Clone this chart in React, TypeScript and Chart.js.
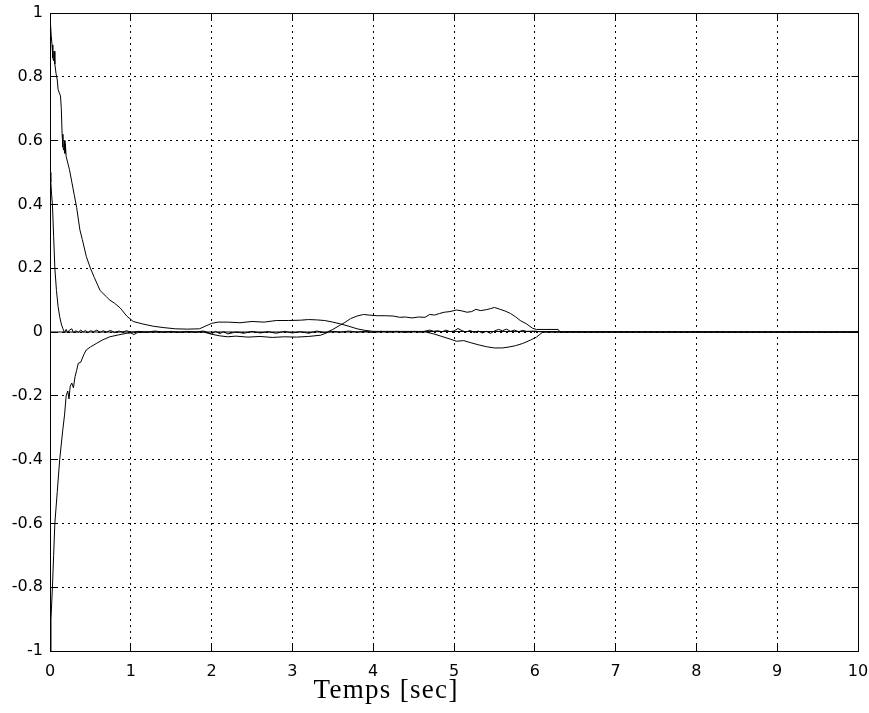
import React, { useEffect, useRef } from 'react';
import { Chart, registerables } from 'chart.js';

Chart.register(...registerables);

// ---------------- data ----------------
const xTickValues = [0, 1, 2, 3, 4, 5, 6, 7, 8, 9, 10];
const yTickValues = [-1, -0.8, -0.6, -0.4, -0.2, 0, 0.2, 0.4, 0.6, 0.8, 1];
const xAxisTitle = 'Temps [sec]';

// curve starting at 1
const s1T = [0, 0.005, 0.015, 0.025, 0.035, 0.045, 0.05, 0.06, 0.075, 0.09,
  0.1, 0.115, 0.13, 0.14, 0.15, 0.16, 0.17, 0.18, 0.185, 0.19,
  0.2, 0.22, 0.24, 0.27, 0.3, 0.33, 0.37, 0.4, 0.45, 0.5,
  0.55, 0.62, 0.7, 0.74, 0.8, 0.87, 0.95, 1.03, 1.15, 1.28,
  1.4, 1.55, 1.7, 1.85, 1.92, 2.0, 2.08, 2.2, 2.35, 2.5,
  2.65, 2.8, 2.95, 3.1, 3.2, 3.3, 3.4, 3.5, 3.6, 3.7,
  3.8, 3.9, 4.0, 10];
const s1Y = [1, 0.97, 0.93, 0.9, 0.86, 0.85, 0.88, 0.84, 0.81, 0.79,
  0.76, 0.75, 0.74, 0.70, 0.62, 0.58, 0.57, 0.60, 0.56, 0.59,
  0.55, 0.53, 0.51, 0.47, 0.43, 0.39, 0.32, 0.29, 0.236, 0.20,
  0.17, 0.13, 0.11, 0.10, 0.09, 0.075, 0.05, 0.033, 0.025, 0.018,
  0.014, 0.01, 0.009, 0.01, 0.018, 0.027, 0.031, 0.031, 0.029, 0.033,
  0.031, 0.036, 0.036, 0.037, 0.039, 0.038, 0.036, 0.031, 0.025, 0.018,
  0.01, 0.005, 0.002, 0];

// curve starting at 0.5
const s2T = [0, 0.01, 0.02, 0.03, 0.045, 0.06, 0.08, 0.1, 0.12, 0.14,
  0.16, 0.18, 0.2, 0.22, 0.24, 0.27, 0.29, 0.32, 0.35, 0.38,
  0.41, 0.44, 0.47, 0.5, 0.54, 0.58, 0.62, 0.66, 0.7, 0.75,
  0.8, 0.85, 0.9, 0.95, 1.0, 1.1, 1.2, 1.3, 1.4, 1.5,
  1.6, 1.7, 1.8, 1.9, 2.0, 2.05, 2.1, 2.15, 2.2, 2.3,
  2.4, 2.5, 2.6, 2.7, 2.8, 2.9, 3.0, 3.1, 3.2, 3.3,
  3.4, 3.5, 3.6, 3.7, 3.8, 3.9, 4.0, 4.1, 4.2, 4.3,
  4.4, 4.5, 4.6, 4.7, 4.75, 4.8, 4.85, 4.9, 4.95, 5.0,
  5.05, 5.1, 5.15, 5.2, 5.25, 5.3, 5.35, 5.4, 5.45, 5.5,
  5.55, 5.6, 5.65, 5.7, 5.75, 5.8, 5.85, 5.9, 6.0, 6.1,
  10];
const s2Y = [0.5, 0.47, 0.43, 0.4, 0.3, 0.2, 0.13, 0.08, 0.048, 0.025,
  0.01, -0.002, 0.008, -0.003, 0.006, 0.01, -0.002, 0.004, -0.001, 0.006,
  0, 0.005, -0.002, 0.004, 0.001, 0.006, -0.001, 0.004, 0, 0.005,
  -0.002, 0.003, 0, 0.004, -0.001, 0.002, 0, 0.003, 0, 0.002,
  -0.001, 0.002, 0, 0.003, -0.006, 0.002, -0.005, 0.001, -0.006, 0,
  -0.004, 0.002, -0.003, 0.001, -0.004, 0.002, -0.003, 0.001, -0.004, 0.003,
  -0.002, 0.002, 0, 0.003, 0, 0.002, -0.001, 0.002, 0, 0.002,
  -0.001, 0.002, 0, 0.006, 0.002, 0.004, 0, 0.006, 0.001, 0.003,
  0.011, 0.004, 0, 0.005, -0.002, 0.003, -0.003, 0.002, -0.004, 0.003,
  0.008, 0.004, 0.009, 0.002, 0.006, 0.001, 0.005, 0.002, 0.003, 0,
  0];

// curve starting at -1
const s3T = [0, 0.012, 0.03, 0.045, 0.06, 0.09, 0.12, 0.157, 0.18, 0.2,
  0.22, 0.235, 0.25, 0.27, 0.29, 0.31, 0.33, 0.35, 0.38, 0.42,
  0.45, 0.5, 0.58, 0.65, 0.74, 0.85, 0.95, 1.0, 1.04, 1.08,
  1.2, 1.9, 2.0, 2.1, 2.2, 2.3, 2.45, 2.6, 2.75, 2.9,
  3.05, 3.2, 3.35, 3.45, 4.65, 4.75, 4.85, 4.95, 5.03, 5.12,
  5.2, 5.3, 5.4, 5.5, 5.6, 5.68, 5.76, 5.85, 5.95, 6.02,
  6.1, 10];
const s3Y = [-1, -0.9, -0.8, -0.7, -0.6, -0.5, -0.4, -0.31, -0.26, -0.2,
  -0.185, -0.21, -0.17, -0.16, -0.175, -0.14, -0.12, -0.098, -0.095, -0.07,
  -0.056, -0.047, -0.035, -0.025, -0.015, -0.009, -0.004, -0.003, -0.008, -0.002,
  0, 0, -0.007, -0.012, -0.015, -0.013, -0.016, -0.014, -0.017, -0.015,
  -0.016, -0.014, -0.01, 0, 0, -0.006, -0.014, -0.022, -0.029, -0.027,
  -0.033, -0.04, -0.046, -0.05, -0.05, -0.047, -0.043, -0.036, -0.025, -0.016,
  0, 0];

// curve rising after 3.4 s
const s4T = [0, 3.43, 3.5, 3.58, 3.65, 3.72, 3.8, 3.88, 3.95, 4.05,
  4.15, 4.25, 4.33, 4.4, 4.48, 4.56, 4.64, 4.7, 4.76, 4.82,
  4.88, 4.95, 5.03, 5.1, 5.16, 5.22, 5.27, 5.33, 5.4, 5.45,
  5.5, 5.56, 5.63, 5.7, 5.76, 5.82, 5.9, 5.97, 6.02, 6.29,
  6.31, 10];
const s4Y = [0, 0, 0.008, 0.02, 0.03, 0.042, 0.05, 0.055, 0.053, 0.051,
  0.051, 0.05, 0.046, 0.047, 0.044, 0.047, 0.046, 0.055, 0.053, 0.058,
  0.062, 0.064, 0.069, 0.066, 0.062, 0.064, 0.071, 0.067, 0.07, 0.073,
  0.077, 0.072, 0.066, 0.058, 0.048, 0.036, 0.025, 0.012, 0.008, 0.008,
  0, 0];

const seriesList = [
  { t: s1T, y: s1Y },
  { t: s2T, y: s2Y },
  { t: s3T, y: s3Y },
  { t: s4T, y: s4Y },
];

const zip = (t: number[], y: number[]) => t.map((x, i) => ({ x, y: y[i] }));

const TICK_FONT = { family: 'DejaVu Sans', size: 16 };
const TICK_LEN = 7;

const framePlugin = {
  id: 'matlabFrame',
  afterDraw(chart: any) {
    const { ctx, chartArea: a, scales } = chart;
    const al = (v: number) => Math.round(v - 0.5) + 0.5;
    const L = al(a.left), R = al(a.right), T = al(a.top), B = al(a.bottom);
    ctx.save();
    ctx.strokeStyle = '#000';
    ctx.lineWidth = 1;
    ctx.setLineDash([]);
    ctx.beginPath();
    ctx.rect(L, T, R - L, B - T);
    // inward ticks
    xTickValues.forEach((v) => {
      const px = al(scales.x.getPixelForValue(v));
      ctx.moveTo(px, B); ctx.lineTo(px, B - TICK_LEN);
      ctx.moveTo(px, T); ctx.lineTo(px, T + TICK_LEN);
    });
    yTickValues.forEach((v) => {
      const py = al(scales.y.getPixelForValue(v));
      ctx.moveTo(L, py); ctx.lineTo(L + TICK_LEN, py);
      ctx.moveTo(R, py); ctx.lineTo(R - TICK_LEN, py);
    });
    ctx.stroke();
    // x-axis title (placed as in the reference, left of centre)
    ctx.fillStyle = '#000';
    ctx.font = '27px "Liberation Serif"';
    (ctx as any).letterSpacing = '1.3px';
    ctx.textAlign = 'center';
    ctx.textBaseline = 'alphabetic';
    ctx.fillText(xAxisTitle, scales.x.getPixelForValue(4.16), 698);
    ctx.restore();
  },
};

export default function App() {
  const canvasRef = useRef<HTMLCanvasElement | null>(null);

  useEffect(() => {
    document.body.style.margin = '0';
    const canvas = canvasRef.current;
    if (!canvas) return;
    const chart = new Chart(canvas, {
      type: 'line',
      data: {
        datasets: seriesList.map((s) => ({
          data: zip(s.t, s.y),
          borderColor: '#000',
          borderWidth: 1,
          pointRadius: 0,
          tension: 0,
          fill: false,
        })),
      },
      options: {
        animation: false,
        responsive: true,
        maintainAspectRatio: false,
        parsing: false as any,
        layout: { padding: { left: 0, top: 13, right: 11, bottom: 0 } },
        plugins: {
          legend: { display: false },
          tooltip: { enabled: false },
        },
        scales: {
          x: {
            type: 'linear',
            min: 0,
            max: 10,
            afterFit: (s: any) => { s.height = 62; s.paddingLeft = 0; s.paddingRight = 0; },
            afterBuildTicks: (s: any) => { s.ticks = xTickValues.map((v) => ({ value: v })); },
            ticks: {
              font: TICK_FONT,
              color: '#000',
              padding: 11,
              maxRotation: 0,
              autoSkip: false,
              callback: (v: any) => String(v),
            },
            grid: { color: '#000', lineWidth: 1, drawTicks: false },
            border: { display: false, dash: [2, 4] },
          },
          y: {
            type: 'linear',
            min: -1,
            max: 1,
            afterFit: (s: any) => { s.width = 50; s.paddingTop = 0; s.paddingBottom = 0; },
            afterBuildTicks: (s: any) => { s.ticks = yTickValues.map((v) => ({ value: v })); },
            ticks: {
              font: TICK_FONT,
              color: '#000',
              padding: 7,
              autoSkip: false,
              callback: (v: any) => String(Number(Number(v).toFixed(1))),
            },
            grid: { color: '#000', lineWidth: 1, drawTicks: false },
            border: { display: false, dash: [2, 4] },
          },
        },
      },
      plugins: [framePlugin],
    });
    return () => chart.destroy();
  }, []);

  return (
    <div style={{ position: 'relative', width: '869px', height: '713px', background: '#fff' }}>
      <canvas ref={canvasRef} />
    </div>
  );
}
